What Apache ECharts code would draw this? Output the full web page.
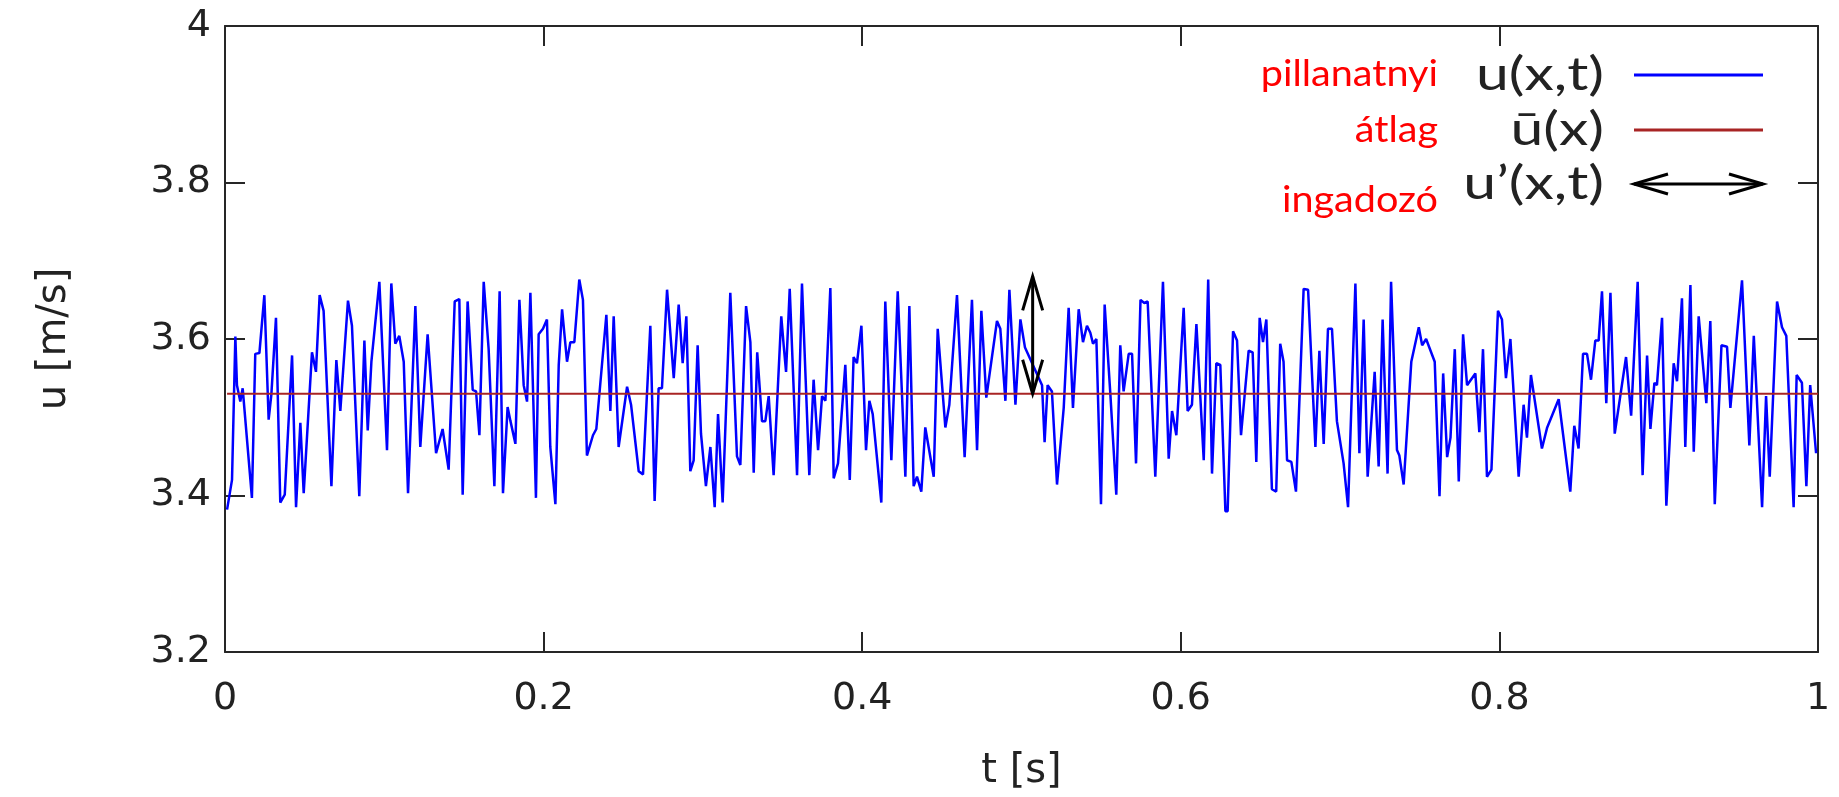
<!DOCTYPE html>
<html>
<head>
<meta charset="utf-8">
<script src="https://cdn.jsdelivr.net/npm/echarts@6/dist/echarts.min.js"></script>
<style>
html,body{margin:0;padding:0;background:#ffffff;}
#chart{width:1839px;height:797px;}
</style>
</head>
<body>
<div id="chart"></div>
<script>
// ---- data ----
const tValues = [
0.0013,0.0044,0.0065,0.0075,0.0096,0.0111,0.0123,0.0169,0.0190,0.0216,
0.0247,0.0274,0.0291,0.0320,0.0347,0.0375,0.0421,0.0446,0.0473,0.0494,
0.0546,0.0571,0.0594,0.0619,0.0668,0.0699,0.0724,0.0772,0.0797,0.0843,
0.0875,0.0896,0.0919,0.0969,0.1017,0.1044,0.1069,0.1094,0.1122,0.1149,
0.1195,0.1226,0.1272,0.1325,0.1366,0.1404,0.1442,0.1471,0.1492,0.1523,
0.1555,0.1576,0.1597,0.1624,0.1655,
0.1691,0.1724,0.1745,0.1774,0.1791,0.1823,0.1848,0.1875,0.1896,0.1917,
0.1952,0.1969,0.1996,0.2021,0.2042,0.2074,0.2095,0.2116,0.2147,0.2168,
0.2193,0.2224,0.2247,0.2272,0.2310,0.2331,0.2394,0.2419,0.2440,0.2471,
0.2524,0.2549,0.2597,0.2624,0.2670,0.2697,0.2722,0.2743,0.2775,0.2817,
0.2848,0.2873,0.2896,0.2921,0.2942,0.2967,0.2988,0.3019,0.3047,0.3074,
0.3095,0.3124,0.3172,0.3214,0.3235,0.3271,0.3298,0.3319,
0.3341,0.3371,0.3392,0.3413,0.3444,0.3492,0.3507,0.3522,0.3545,0.3591,
0.3622,0.3668,0.3695,0.3723,0.3748,0.3769,0.3800,0.3821,0.3848,0.3894,
0.3922,0.3946,0.3967,0.3995,0.4024,0.4045,0.4066,0.4120,0.4145,0.4183,
0.4223,0.4271,0.4296,0.4323,0.4344,0.4371,0.4396,0.4449,0.4474,0.4522,
0.4547,0.4595,0.4643,0.4689,0.4721,0.4748,0.4779,0.4846,0.4867,0.4899,
0.4924,0.4962,0.4993,0.5022,
0.5129,0.5145,0.5164,0.5191,0.5223,0.5265,0.5296,0.5323,0.5359,0.5386,
0.5411,0.5432,0.5449,0.5470,0.5499,0.5522,0.5558,0.5595,0.5620,0.5641,
0.5673,0.5694,0.5719,0.5747,0.5771,0.5792,0.5840,0.5888,0.5924,0.5945,
0.5972,0.6018,0.6043,0.6070,0.6098,0.6144,0.6172,0.6196,0.6223,0.6248,
0.6280,0.6294,0.6328,0.6353,0.6378,0.6426,0.6451,0.6474,0.6495,0.6516,
0.6537,0.6572,0.6599,0.6624,0.6645,
0.6667,0.6694,0.6723,0.6771,0.6799,0.6845,0.6870,0.6897,0.6924,0.6949,
0.6980,0.7022,0.7050,0.7096,0.7121,0.7148,0.7173,0.7217,0.7242,0.7267,
0.7298,0.7320,0.7357,0.7372,0.7399,0.7447,0.7494,0.7515,0.7540,0.7594,
0.7624,0.7647,0.7672,0.7693,0.7720,0.7745,0.7772,0.7797,0.7849,0.7874,
0.7897,0.7922,0.7950,0.7991,0.8016,0.8041,0.8069,0.8121,0.8152,0.8173,
0.8198,0.8267,0.8300,
0.8372,0.8445,0.8470,0.8497,0.8525,0.8550,0.8575,0.8602,0.8623,0.8644,
0.8671,0.8697,0.8724,0.8795,0.8827,0.8868,0.8899,0.8927,0.8948,0.8973,
0.8989,0.9021,0.9048,0.9094,0.9115,0.9146,0.9167,0.9199,0.9220,0.9251,
0.9299,0.9324,0.9352,0.9394,0.9429,0.9450,0.9523,0.9569,0.9597,0.9649,
0.9674,0.9697,0.9743,0.9774,0.9801,0.9847,0.9866,0.9899,0.9927,0.9951,
0.9988
];
const uValues = [
3.382,3.420,3.603,3.541,3.520,3.537,3.535,3.397,3.581,3.582,
3.656,3.497,3.529,3.627,3.391,3.401,3.579,3.385,3.493,3.403,
3.583,3.558,3.656,3.636,3.412,3.573,3.508,3.649,3.617,3.399,
3.598,3.483,3.571,3.673,3.458,3.671,3.594,3.604,3.571,3.403,
3.642,3.462,3.606,3.454,3.485,3.433,3.648,3.651,3.401,3.648,
3.535,3.533,3.477,3.673,3.587,
3.412,3.661,3.403,3.513,3.496,3.466,3.650,3.541,3.520,3.659,
3.397,3.606,3.613,3.625,3.462,3.389,3.567,3.638,3.571,3.596,
3.596,3.676,3.650,3.451,3.477,3.485,3.631,3.508,3.629,3.462,
3.539,3.516,3.431,3.427,3.617,3.393,3.537,3.537,3.663,3.550,
3.644,3.569,3.629,3.431,3.445,3.592,3.479,3.412,3.462,3.385,
3.504,3.391,3.659,3.450,3.439,3.642,3.596,3.429,
3.583,3.495,3.495,3.527,3.426,3.629,3.592,3.558,3.664,3.426,
3.671,3.426,3.548,3.458,3.527,3.521,3.665,3.422,3.441,3.567,
3.420,3.577,3.569,3.617,3.458,3.521,3.504,3.391,3.648,3.445,
3.661,3.424,3.642,3.412,3.424,3.405,3.487,3.424,3.613,3.487,
3.516,3.656,3.449,3.650,3.458,3.636,3.525,3.623,3.613,3.521,
3.663,3.516,3.625,3.589,
3.541,3.468,3.541,3.533,3.414,3.512,3.640,3.512,3.638,3.596,
3.617,3.608,3.594,3.600,3.389,3.644,3.529,3.401,3.592,3.533,
3.581,3.581,3.441,3.650,3.646,3.648,3.424,3.673,3.447,3.508,
3.477,3.640,3.508,3.516,3.619,3.445,3.676,3.428,3.569,3.567,
3.380,3.380,3.610,3.598,3.477,3.585,3.583,3.443,3.627,3.596,
3.625,3.408,3.405,3.594,3.571,
3.445,3.443,3.405,3.664,3.663,3.462,3.585,3.466,3.613,3.613,
3.495,3.441,3.385,3.671,3.454,3.625,3.424,3.558,3.437,3.625,
3.428,3.673,3.458,3.451,3.414,3.571,3.615,3.592,3.600,3.571,
3.399,3.556,3.449,3.474,3.587,3.418,3.606,3.541,3.556,3.481,
3.587,3.424,3.433,3.636,3.625,3.550,3.600,3.424,3.516,3.474,
3.554,3.460,3.487,
3.523,3.405,3.489,3.460,3.581,3.581,3.548,3.598,3.598,3.661,
3.518,3.659,3.479,3.577,3.502,3.673,3.426,3.579,3.485,3.544,
3.541,3.627,3.387,3.569,3.546,3.652,3.462,3.669,3.456,3.629,
3.518,3.623,3.389,3.592,3.590,3.512,3.675,3.464,3.604,3.385,
3.527,3.424,3.648,3.615,3.604,3.385,3.554,3.544,3.412,3.541,
3.454
];
const meanValue = 3.53;
const meanRange = [0.0013, 1.0];
const arrowT = 0.507;
const arrowFrom = 3.53;
const arrowTo = 3.68;
const xMin = 0, xMax = 1, xStep = 0.2;
const yMin = 3.2, yMax = 4, yStep = 0.2;
const xName = 't [s]';
const yName = 'u [m/s]';
const legendLabels = ['u(x,t)', 'ū(x)', 'u’(x,t)'];
const noteLabels = ['pillanatnyi', 'átlag', 'ingadozó'];

// ---- styles ----
const axisColor = '#262626';
const textColor = '#222222';
const tickFont = 'DejaVu Sans';
const blue = '#0000ff';
const darkRed = '#a82424';

const n = Math.min(tValues.length, uValues.length);
const uSeries = [];
for (let i = 0; i < n; i++) uSeries.push([tValues[i], uValues[i]]);
const meanSeries = meanRange.map(t => [t, meanValue]);

function frameAxis(pos, isX, withLabels) {
  return {
    type: 'value',
    position: pos,
    min: isX ? xMin : yMin,
    max: isX ? xMax : yMax,
    interval: isX ? xStep : yStep,
    axisLine: {show: true, onZero: false, lineStyle: {color: axisColor, width: 2}},
    axisTick: {show: true, inside: true, length: 20, lineStyle: {color: axisColor, width: 2}},
    splitLine: {show: false},
    axisLabel: {show: withLabels, color: textColor, fontSize: 38, fontFamily: tickFont, margin: isX ? 28 : 14}
  };
}

const xBottom = frameAxis('bottom', true, true);
xBottom.name = xName;
xBottom.nameLocation = 'middle';
xBottom.nameGap = 100;
xBottom.nameTextStyle = {color: textColor, fontSize: 40, fontFamily: tickFont};
const yLeft = frameAxis('left', false, true);
yLeft.name = yName;
yLeft.nameLocation = 'middle';
yLeft.nameGap = 150;
yLeft.nameRotate = 90;
yLeft.nameTextStyle = {color: textColor, fontSize: 40, fontFamily: tickFont};

function arrowItem(params, api) {
  const p1 = api.coord([api.value(0), api.value(1)]);
  const p2 = api.coord([api.value(0), api.value(2)]);
  const hw = 10, hl = 34;
  const st = {stroke: '#000000', lineWidth: 3, fill: null, lineJoin: 'miter'};
  return {
    type: 'group',
    children: [
      {type: 'line', shape: {x1: p1[0], y1: p1[1], x2: p2[0], y2: p2[1]}, style: st},
      {type: 'polyline', shape: {points: [[p2[0] - hw, p2[1] + hl], [p2[0], p2[1]], [p2[0] + hw, p2[1] + hl]]}, style: st},
      {type: 'polyline', shape: {points: [[p1[0] - hw, p1[1] - hl], [p1[0], p1[1]], [p1[0] + hw, p1[1] - hl]]}, style: st}
    ]
  };
}

// legend drawn as graphic (labels left of the sample lines); the source figure is stretched horizontally
const lgX1 = 1634, lgX2 = 1763, lgTextX = 1604, noteX = 1438;
const lgY = [75, 130, 184];
const noteY = [74, 130, 200];
function txt(s, x, y, font, color, sx) {
  return {type: 'text', x: x, y: y, z: 10, scaleX: sx, scaleY: 1,
    style: {text: s, font: font, fill: color, textAlign: 'right', align: 'right',
            textVerticalAlign: 'middle', verticalAlign: 'middle'}};
}
const graphics = [];
legendLabels.forEach((s, i) => graphics.push(txt(s, lgTextX, lgY[i], '46px Lato', textColor, 1.28)));
noteLabels.forEach((s, i) => graphics.push(txt(s, noteX, noteY[i], '36px Lato', '#ff0000', 1.1)));
graphics.push({type: 'line', z: 10, shape: {x1: lgX1, y1: lgY[0], x2: lgX2, y2: lgY[0]}, style: {stroke: blue, lineWidth: 3}});
graphics.push({type: 'line', z: 10, shape: {x1: lgX1, y1: lgY[1], x2: lgX2, y2: lgY[1]}, style: {stroke: darkRed, lineWidth: 3}});
const ast = {stroke: '#000000', lineWidth: 3, fill: null};
graphics.push({type: 'line', z: 10, shape: {x1: lgX1, y1: lgY[2], x2: lgX2, y2: lgY[2]}, style: ast});
graphics.push({type: 'polyline', z: 10, shape: {points: [[lgX1 + 34, lgY[2] - 10], [lgX1, lgY[2]], [lgX1 + 34, lgY[2] + 10]]}, style: ast});
graphics.push({type: 'polyline', z: 10, shape: {points: [[lgX2 - 34, lgY[2] - 10], [lgX2, lgY[2]], [lgX2 - 34, lgY[2] + 10]]}, style: ast});

const option = {
  animation: false,
  backgroundColor: '#ffffff',
  grid: {left: 225, right: 21, top: 26, bottom: 140, containLabel: false},
  xAxis: [xBottom, frameAxis('top', true, false)],
  yAxis: [yLeft, frameAxis('right', false, false)],
  series: [
    {type: 'line', name: legendLabels[0], data: uSeries, showSymbol: false, symbol: 'none',
     lineStyle: {color: blue, width: 2.5}, z: 2},
    {type: 'line', name: legendLabels[1], data: meanSeries, showSymbol: false, symbol: 'none',
     lineStyle: {color: darkRed, width: 2}, z: 3},
    {type: 'custom', name: legendLabels[2], data: [[arrowT, arrowFrom, arrowTo]],
     encode: {x: 0, y: [1, 2]}, renderItem: arrowItem, z: 4}
  ],
  graphic: graphics
};

const chart = echarts.init(document.getElementById('chart'), null, {renderer: 'canvas'});
chart.setOption(option);
</script>
</body>
</html>
